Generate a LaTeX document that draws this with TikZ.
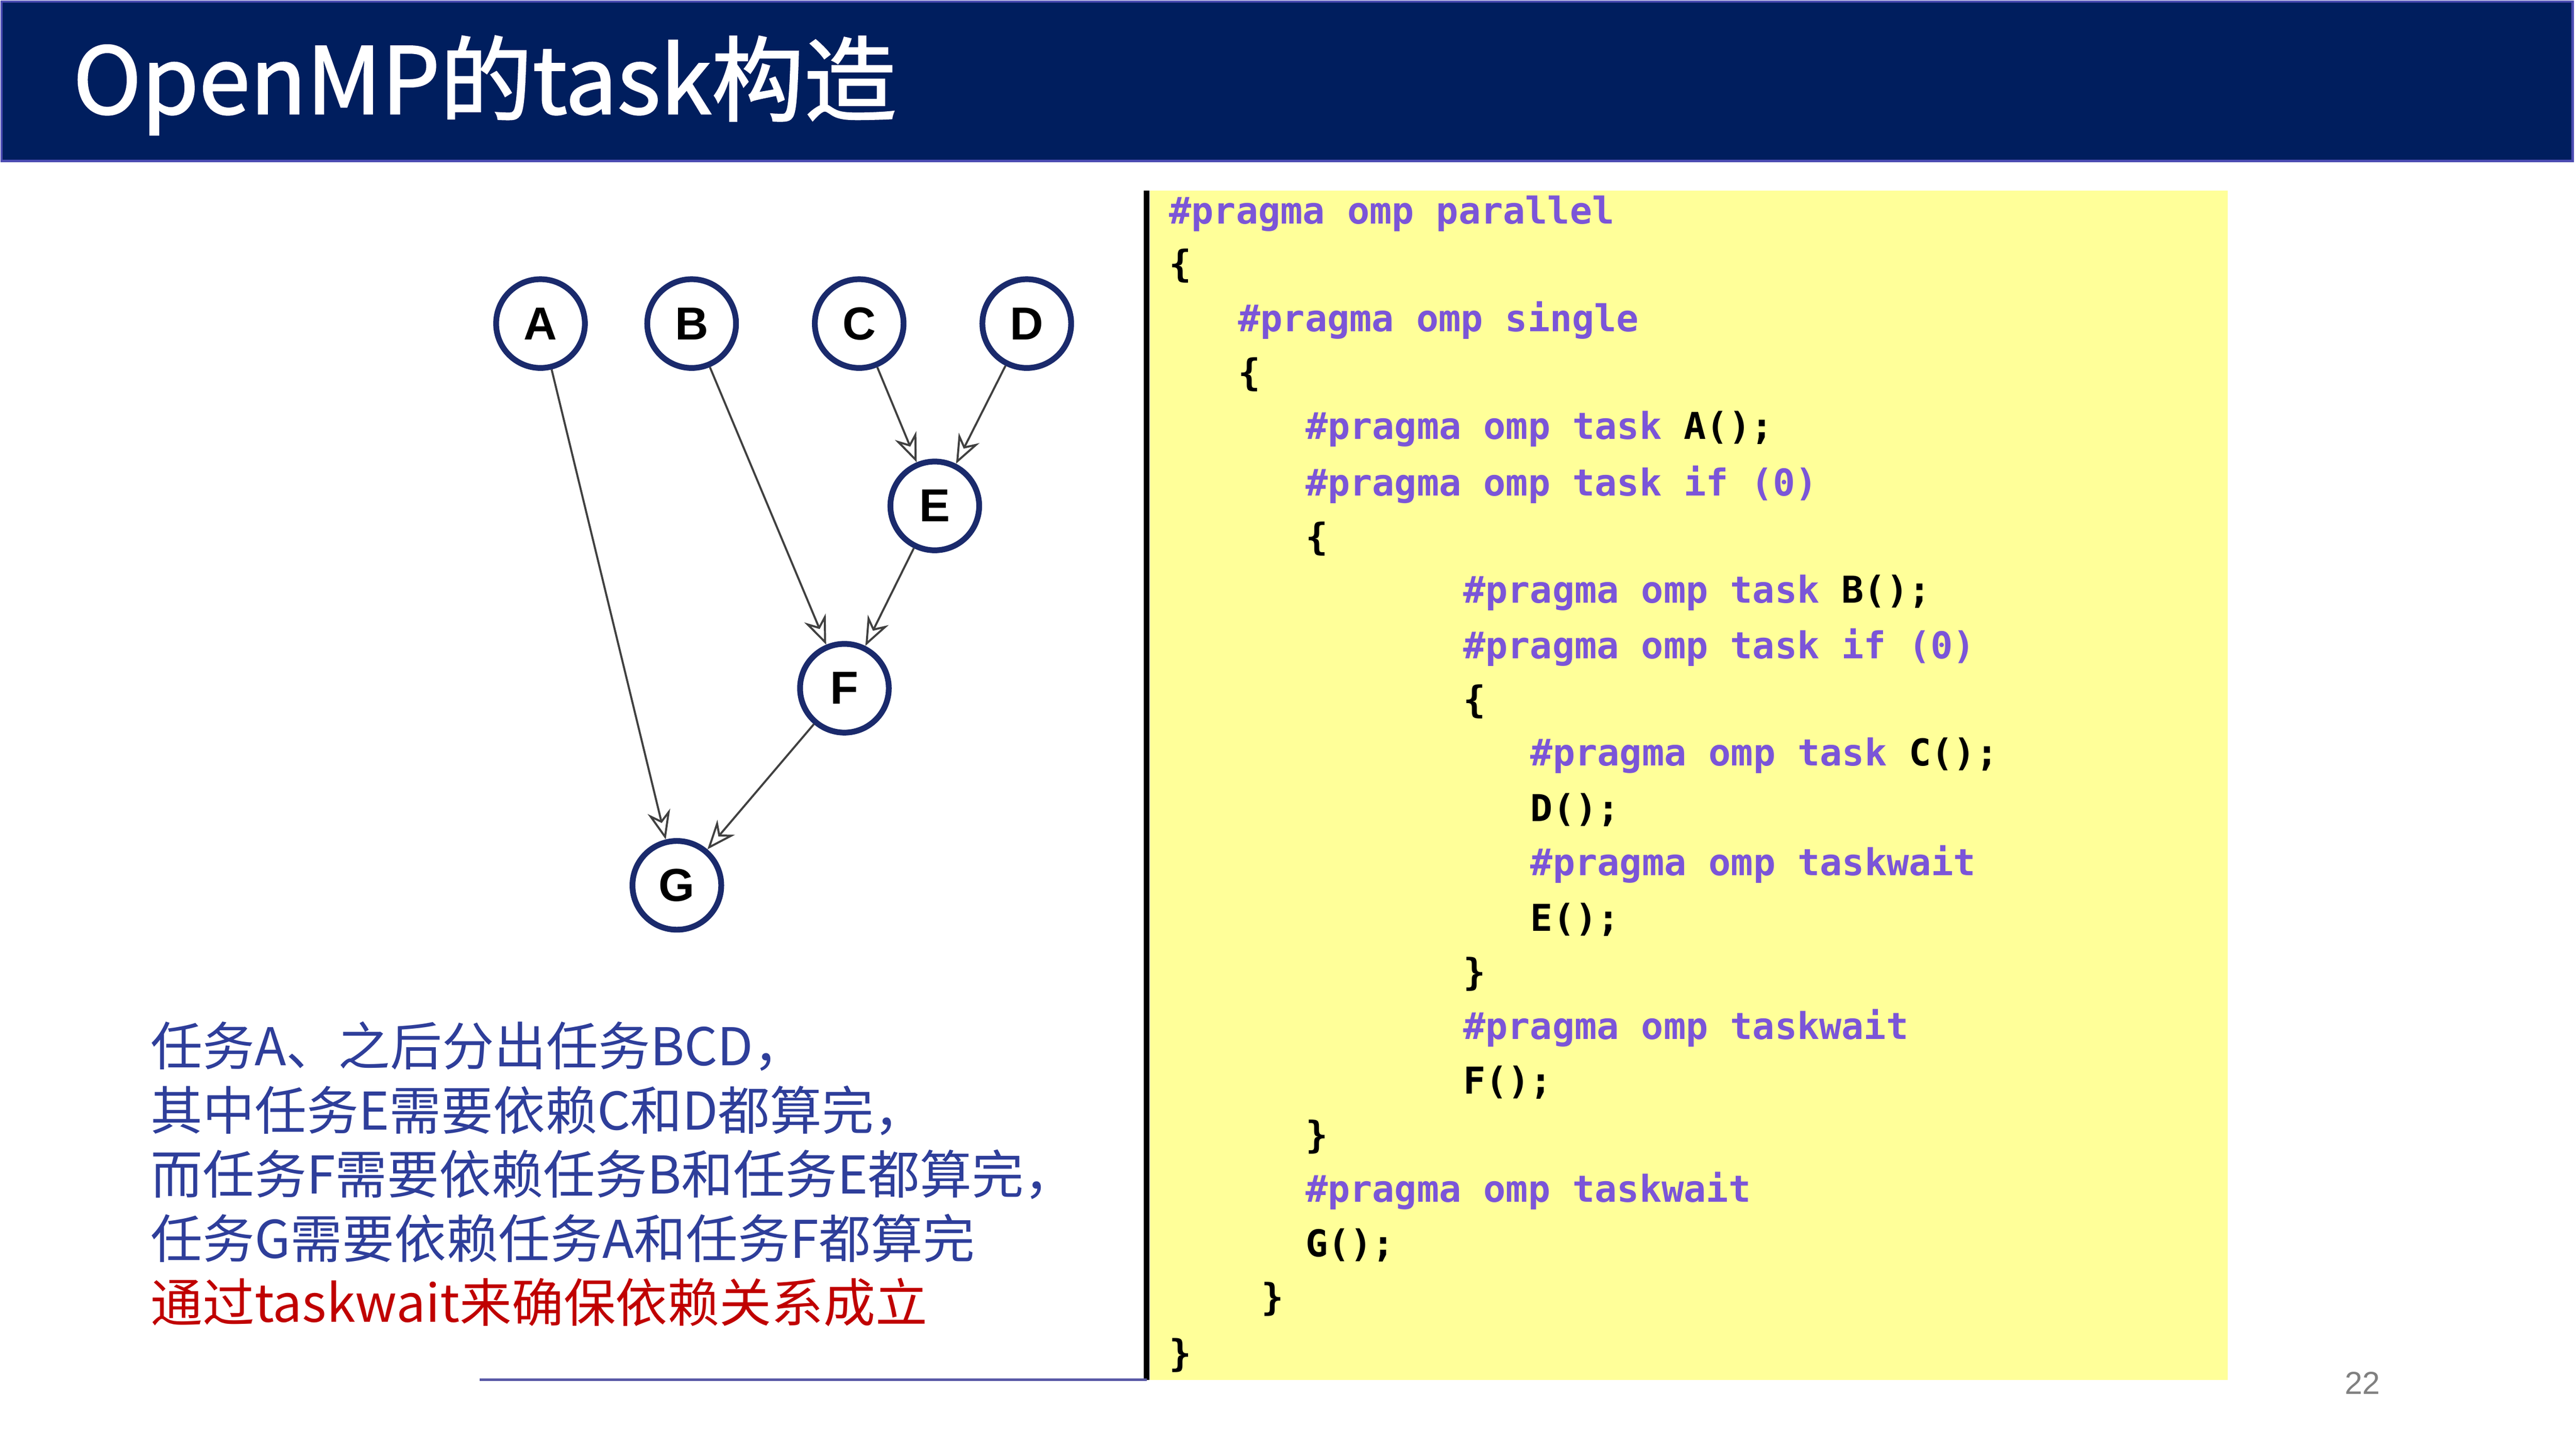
\documentclass[tikz,border=0pt]{standalone}
\usepackage{fontspec}
\setmainfont{Liberation Serif}
\newfontfamily\cjk{Noto Sans CJK SC}
\newfontfamily\cjkb{Noto Sans CJK SC}[FakeBold=1.5]
\newfontfamily\lsans{Liberation Sans}
\newfontfamily\mono{DejaVu Sans Mono}
\usetikzlibrary{arrows.meta}
\definecolor{navy}{HTML}{001E5E}
\definecolor{circ}{HTML}{1A2A6C}
\definecolor{codeyel}{HTML}{FFFF99}
\definecolor{prag}{HTML}{7B55D8}
\definecolor{txtblue}{HTML}{2E3E9A}
\definecolor{txtred}{HTML}{C00000}
\tikzset{
 tnode/.style={circle,draw=circ,line width=1pt,minimum size=0.54cm,inner sep=0pt,font=\lsans\bfseries\fontsize{8}{8}\selectfont},
 dep/.style={-{Stealth[length=5pt,width=4pt,open]},draw=black!75,line width=0.35pt},
 cl/.style={anchor=west,inner sep=0pt,font=\mono\bfseries\fontsize{6.4}{6.4}\selectfont},
 ds/.style={anchor=west,inner sep=0pt,font=\cjk\fontsize{9}{9}\selectfont,text=txtblue}
}
\begin{document}
\begin{tikzpicture}[x=0.01cm,y=-0.01cm]
\useasboundingbox (0,0) rectangle (1568,882);
\fill[white] (0,0) rectangle (1568,882);
\fill[navy] (1,1) rectangle (1566,98);
\draw[blue!40!gray,line width=0.4pt] (1,1) rectangle (1566,98);
\node[anchor=west,text=white,font=\cjkb\fontsize{16}{16}\selectfont] (title) at (32,52) {OpenMP的task构造};

\node[tnode] (A) at (329,197) {A};
\node[tnode] (B) at (421,197) {B};
\node[tnode] (C) at (523,197) {C};
\node[tnode] (D) at (625,197) {D};
\node[tnode] (E) at (569,308) {E};
\node[tnode] (F) at (514,419) {F};
\node[tnode] (G) at (412,539) {G};
\draw[dep] (A) -- (G);
\draw[dep] (B) -- (F);
\draw[dep] (C) -- (E);
\draw[dep] (D) -- (E);
\draw[dep] (E) -- (F);
\draw[dep] (F) -- (G);

\fill[codeyel] (700,116) rectangle (1356,840);
\draw[black,line width=1pt] (698,116) -- (698,840);
\draw[blue!30!gray,line width=0.4pt] (292,840) -- (698,840);

\node[cl,text=prag] (l1) at (711,130) {\#pragma omp parallel};
\node[cl] (l2) at (711,162) {\{};
\node[cl,text=prag] (l3) at (753,195) {\#pragma omp single};
\node[cl] (l4) at (753,228) {\{};
\node[cl] (l5) at (794,261) {\textcolor{prag}{\#pragma omp task} A();};
\node[cl] (l6) at (794,295) {\textcolor{prag}{\#pragma omp task if (0)}};
\node[cl] (l7) at (794,328) {\{};
\node[cl] (l8) at (890,361) {\textcolor{prag}{\#pragma omp task} B();};
\node[cl] (l9) at (890,394) {\textcolor{prag}{\#pragma omp task if (0)}};
\node[cl] (l10) at (890,427) {\{};
\node[cl] (l11) at (931,460) {\textcolor{prag}{\#pragma omp task} C();};
\node[cl] (l12) at (931,493) {D();};
\node[cl,text=prag] (l13) at (931,526) {\#pragma omp taskwait};
\node[cl] (l14) at (931,560) {E();};
\node[cl] (l15) at (890,593) {\}};
\node[cl,text=prag] (l16) at (890,626) {\#pragma omp taskwait};
\node[cl] (l17) at (890,659) {F();};
\node[cl] (l18) at (794,692) {\}};
\node[cl,text=prag] (l19) at (794,725) {\#pragma omp taskwait};
\node[cl] (l20) at (794,758) {G();};
\node[cl] (l21) at (767,791) {\}};
\node[cl] (l22) at (711,825) {\}};

\node[ds] (d1) at (91,637) {任务A、之后分出任务BCD，};
\node[ds] (d2) at (91,676) {其中任务E需要依赖C和D都算完，};
\node[ds] (d3) at (91,715) {而任务F需要依赖任务B和任务E都算完，};
\node[ds] (d4) at (91,754) {任务G需要依赖任务A和任务F都算完};
\node[ds,text=txtred] (d5) at (91,793) {通过taskwait来确保依赖关系成立};

\node[text=gray,font=\lsans\fontsize{5.5}{5.5}\selectfont] (pg) at (1438,842) {22};
\end{tikzpicture}
\end{document}
